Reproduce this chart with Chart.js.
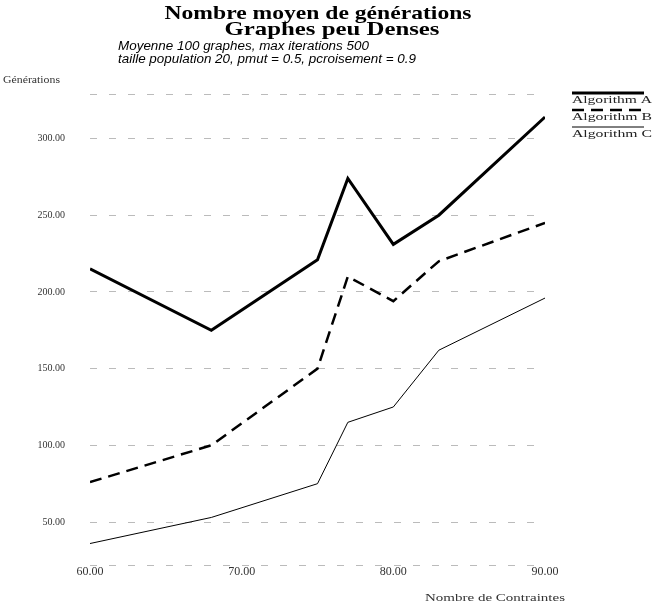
<!DOCTYPE html>
<html lang="fr">
<head>
<meta charset="UTF-8">
<title>Nombre moyen de générations - Graphes peu Denses</title>
<style>
html, body { margin: 0; padding: 0; background: #fff; }
#wrap { width: 652px; height: 608px; position: relative; }
</style>
</head>
<body>
<div id="wrap"><canvas id="chart" width="652" height="608"></canvas></div>

<script src="https://cdn.jsdelivr.net/npm/chart.js"></script>
<script>
// data
const contraintes = [60, 68, 75, 77, 80, 83, 90];
const algoA = [215, 175, 221, 274, 231, 250, 314];
const algoB = [76, 100, 150, 210, 194, 220, 245];
const algoC = [36, 53, 75, 115, 125, 162, 196];
const seriesNames = ['Algorithm A', 'Algorithm B', 'Algorithm C'];
const yTicks = [50, 100, 150, 200, 250, 300];
const xTicks = [60, 70, 80, 90];
const yMin = 22, yMax = 329;

const titleLines = ['Nombre moyen de générations', 'Graphes peu Denses'];
const subtitleLines = ['Moyenne 100 graphes, max iterations 500',
                       'taille population 20, pmut = 0.5, pcroisement = 0.9'];

function pts(ys) {
    return contraintes.map((x, i) => ({ x: x, y: ys[i] }));
}

// draw text with a horizontal scale (the scan is wider than the plain font)
function scaledText(ctx, text, x, y, font, sx, align) {
    ctx.save();
    ctx.font = font;
    ctx.translate(x, y);
    ctx.scale(sx, 1);
    ctx.textAlign = align || 'left';
    ctx.textBaseline = 'middle';
    ctx.fillText(text, 0, 0);
    ctx.restore();
}

function fitText(ctx, text, x, y, font, width, align) {
    ctx.save();
    ctx.font = font;
    const sx = width / ctx.measureText(text).width;
    ctx.restore();
    scaledText(ctx, text, x, y, font, sx, align);
}

const decorations = {
    id: 'decorations',
    afterDraw(chart) {
        const ctx = chart.ctx;
        ctx.save();
        ctx.fillStyle = '#000';
        fitText(ctx, titleLines[0], 318, 14, 'bold 19px "Liberation Serif"', 307, 'center');
        fitText(ctx, titleLines[1], 332, 30, 'bold 19px "Liberation Serif"', 215, 'center');

        // both subtitle lines share one scale
        const subFont = 'italic 12px "Liberation Sans"';
        ctx.font = subFont;
        const subScale = 298 / ctx.measureText(subtitleLines[1]).width;
        scaledText(ctx, subtitleLines[0], 118, 47, subFont, subScale);
        scaledText(ctx, subtitleLines[1], 118, 60, subFont, subScale);

        ctx.fillStyle = '#333';
        fitText(ctx, 'Générations', 3, 80, '10px "Liberation Serif"', 57);
        fitText(ctx, 'Nombre de Contraintes', 425, 598, '11px "Liberation Serif"', 140);

        // legend: line sample above each label
        const sets = chart.data.datasets;
        for (let i = 0; i < sets.length; i++) {
            const ly = 93 + i * 17;
            ctx.beginPath();
            ctx.strokeStyle = '#000';
            ctx.lineWidth = sets[i].borderWidth;
            ctx.setLineDash(sets[i].borderDash || []);
            ctx.moveTo(572, ly);
            ctx.lineTo(644, ly);
            ctx.stroke();
            ctx.setLineDash([]);
            ctx.fillStyle = '#222';
            fitText(ctx, seriesNames[i], 572, ly + 7, '11px "Liberation Serif"', 80);
        }
        ctx.restore();
    }
};

new Chart(document.getElementById('chart'), {
    type: 'line',
    data: {
        datasets: [
            { label: seriesNames[0], data: pts(algoA), borderColor: '#000', borderWidth: 3 },
            { label: seriesNames[1], data: pts(algoB), borderColor: '#000', borderWidth: 2.5, borderDash: [12, 7] },
            { label: seriesNames[2], data: pts(algoC), borderColor: '#000', borderWidth: 1 }
        ]
    },
    options: {
        responsive: false,
        animation: false,
        layout: { padding: { top: 94, right: 107, left: 0, bottom: 0 } },
        elements: { point: { radius: 0 }, line: { tension: 0 } },
        plugins: { legend: { display: false }, title: { display: false }, tooltip: { enabled: false } },
        scales: {
            x: {
                type: 'linear',
                min: 60, max: 90,
                afterBuildTicks: s => { s.ticks = xTicks.map(v => ({ value: v })); },
                afterFit: s => { s.height = 43; },
                grid: { display: false, drawTicks: false },
                border: { display: false },
                ticks: {
                    padding: 0,
                    color: '#333',
                    font: { family: '"Liberation Serif"', size: 12 },
                    callback: v => v.toFixed(2)
                }
            },
            y: {
                min: yMin, max: yMax,
                afterBuildTicks: s => { s.ticks = [yMin].concat(yTicks, [yMax]).map(v => ({ value: v })); },
                afterFit: s => { s.width = 90; },
                grid: { color: '#bbb', lineWidth: 1, drawTicks: false },
                border: { display: false, dash: [7, 12] },
                ticks: {
                    padding: 25,
                    color: '#333',
                    font: { family: '"Liberation Serif"', size: 10 },
                    callback: v => yTicks.includes(v) ? v.toFixed(2) : ''
                }
            }
        }
    },
    plugins: [decorations]
});
</script>
</body>
</html>
